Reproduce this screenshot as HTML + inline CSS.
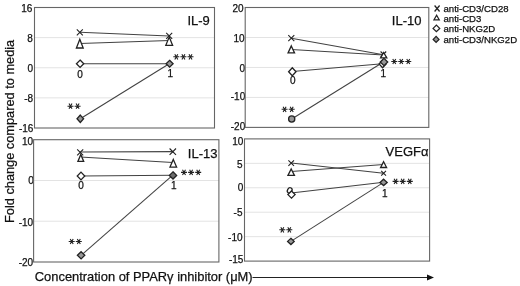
<!DOCTYPE html><html><head><meta charset="utf-8"><style>html,body{margin:0;padding:0;background:#fff;width:520px;height:286px;overflow:hidden;}body{position:relative;font-family:"Liberation Sans", sans-serif;}</style></head><body><svg width="520" height="286" viewBox="0 0 520 286" style="position:absolute;left:0;top:0;filter:blur(0.35px)" font-family='"Liberation Sans", sans-serif' fill="#111">
<style>text{stroke:#111;stroke-width:0.25px;}</style>
<rect width="520" height="286" fill="#fff"/>
<path d="M34.50 37.62L214.50 37.62" stroke="#e3e3e3" stroke-width="1.0" fill="none"/>
<path d="M34.50 67.75L214.50 67.75" stroke="#e3e3e3" stroke-width="1.0" fill="none"/>
<path d="M34.50 97.88L214.50 97.88" stroke="#e3e3e3" stroke-width="1.0" fill="none"/>
<text x="32.40" y="12.10" font-size="10" text-anchor="end" >16</text>
<text x="32.90" y="42.10" font-size="10" text-anchor="end" >8</text>
<text x="33.10" y="72.10" font-size="10" text-anchor="end" >0</text>
<text x="33.10" y="102.30" font-size="10" text-anchor="end" >-8</text>
<text x="33.40" y="131.90" font-size="10" text-anchor="end" >-16</text>
<rect x="34.50" y="7.50" width="180.00" height="120.50" fill="none" stroke="#666" stroke-width="1.1"/>
<text x="209.80" y="25.00" font-size="13" text-anchor="end" >IL-9</text>
<text x="80.10" y="77.60" font-size="10" text-anchor="middle" >0</text>
<text x="170.20" y="77.40" font-size="10" text-anchor="middle" >1</text>
<path d="M173.30 56.80L179.30 56.80M174.80 54.20L177.80 59.40M177.80 54.20L174.80 59.40" stroke="#222" stroke-width="1.1" fill="none"/>
<path d="M180.40 56.80L186.40 56.80M181.90 54.20L184.90 59.40M184.90 54.20L181.90 59.40" stroke="#222" stroke-width="1.1" fill="none"/>
<path d="M187.50 56.80L193.50 56.80M189.00 54.20L192.00 59.40M192.00 54.20L189.00 59.40" stroke="#222" stroke-width="1.1" fill="none"/>
<path d="M67.50 106.20L73.50 106.20M69.00 103.60L72.00 108.80M72.00 103.60L69.00 108.80" stroke="#222" stroke-width="1.1" fill="none"/>
<path d="M74.60 106.20L80.60 106.20M76.10 103.60L79.10 108.80M79.10 103.60L76.10 108.80" stroke="#222" stroke-width="1.1" fill="none"/>
<path d="M79.80 32.30L169.20 35.90" stroke="#424242" stroke-width="1.05" fill="none"/>
<path d="M79.80 43.40L169.20 40.60" stroke="#424242" stroke-width="1.05" fill="none"/>
<path d="M79.80 63.70L169.20 63.70" stroke="#424242" stroke-width="1.05" fill="none"/>
<path d="M80.30 118.80L169.20 63.70" stroke="#424242" stroke-width="1.05" fill="none"/>
<path d="M76.80 29.30L82.80 35.30M82.80 29.30L76.80 35.30" stroke="#222" stroke-width="1.1" fill="none"/>
<path d="M79.80 39.20L83.20 48.00L76.40 48.00Z" stroke="#222" stroke-width="1.3" fill="#fff"/>
<path d="M166.20 32.90L172.20 38.90M172.20 32.90L166.20 38.90" stroke="#222" stroke-width="1.1" fill="none"/>
<path d="M169.20 37.10L172.60 45.30L165.80 45.30Z" stroke="#222" stroke-width="1.3" fill="#fff"/>
<path d="M80.10 60.05L83.75 63.70L80.10 67.35L76.45 63.70Z" stroke="#222" stroke-width="1.3" fill="#fff"/>
<path d="M169.60 60.30L173.10 63.70L169.60 67.10L166.10 63.70Z" stroke="#222" stroke-width="1.3" fill="#979797"/>
<path d="M80.30 115.10L83.60 118.80L80.30 122.50L77.00 118.80Z" stroke="#222" stroke-width="1.3" fill="#979797"/>
<path d="M245.20 37.48L428.80 37.48" stroke="#e3e3e3" stroke-width="1.0" fill="none"/>
<path d="M245.20 67.45L428.80 67.45" stroke="#e3e3e3" stroke-width="1.0" fill="none"/>
<path d="M245.20 97.43L428.80 97.43" stroke="#e3e3e3" stroke-width="1.0" fill="none"/>
<text x="243.50" y="12.10" font-size="10" text-anchor="end" >20</text>
<text x="244.60" y="41.70" font-size="10" text-anchor="end" >10</text>
<text x="245.00" y="72.20" font-size="10" text-anchor="end" >0</text>
<text x="245.20" y="100.30" font-size="10" text-anchor="end" >-10</text>
<text x="245.20" y="129.90" font-size="10" text-anchor="end" >-20</text>
<rect x="245.20" y="7.50" width="183.60" height="119.90" fill="none" stroke="#666" stroke-width="1.1"/>
<text x="421.50" y="25.00" font-size="13" text-anchor="end" >IL-10</text>
<text x="292.70" y="83.50" font-size="10" text-anchor="middle" >0</text>
<text x="383.40" y="77.40" font-size="10" text-anchor="middle" >1</text>
<path d="M391.25 61.50L397.25 61.50M392.75 58.90L395.75 64.10M395.75 58.90L392.75 64.10" stroke="#222" stroke-width="1.1" fill="none"/>
<path d="M398.25 61.50L404.25 61.50M399.75 58.90L402.75 64.10M402.75 58.90L399.75 64.10" stroke="#222" stroke-width="1.1" fill="none"/>
<path d="M405.25 61.50L411.25 61.50M406.75 58.90L409.75 64.10M409.75 58.90L406.75 64.10" stroke="#222" stroke-width="1.1" fill="none"/>
<path d="M281.60 109.30L287.60 109.30M283.10 106.70L286.10 111.90M286.10 106.70L283.10 111.90" stroke="#222" stroke-width="1.1" fill="none"/>
<path d="M288.70 109.30L294.70 109.30M290.20 106.70L293.20 111.90M293.20 106.70L290.20 111.90" stroke="#222" stroke-width="1.1" fill="none"/>
<path d="M291.30 38.20L383.40 54.80" stroke="#424242" stroke-width="1.05" fill="none"/>
<path d="M291.30 49.50L383.40 55.00" stroke="#424242" stroke-width="1.05" fill="none"/>
<path d="M292.30 71.50L382.40 63.80" stroke="#424242" stroke-width="1.05" fill="none"/>
<path d="M291.70 119.00L383.40 62.00" stroke="#424242" stroke-width="1.05" fill="none"/>
<path d="M288.30 35.20L294.30 41.20M294.30 35.20L288.30 41.20" stroke="#222" stroke-width="1.1" fill="none"/>
<path d="M291.30 45.90L294.55 52.90L288.05 52.90Z" stroke="#222" stroke-width="1.3" fill="#fff"/>
<path d="M380.60 51.50L386.20 57.10M386.20 51.50L380.60 57.10" stroke="#222" stroke-width="1.1" fill="none"/>
<path d="M383.70 52.50L386.80 57.90L380.60 57.90Z" stroke="#222" stroke-width="1.3" fill="#fff"/>
<path d="M292.30 67.70L296.00 71.70L292.30 75.70L288.60 71.70Z" stroke="#222" stroke-width="1.3" fill="#fff"/>
<path d="M382.60 60.30L386.10 64.00L382.60 67.70L379.10 64.00Z" stroke="#222" stroke-width="1.3" fill="#fff"/>
<path d="M384.00 58.40L387.70 62.00L384.00 65.60L380.30 62.00Z" stroke="#222" stroke-width="1.3" fill="#979797"/>
<circle cx="291.70" cy="119.0" r="3.1" fill="#979797" stroke="#222" stroke-width="1.3"/>
<path d="M33.60 180.47L218.90 180.47" stroke="#e3e3e3" stroke-width="1.0" fill="none"/>
<path d="M33.60 221.23L218.90 221.23" stroke="#e3e3e3" stroke-width="1.0" fill="none"/>
<text x="33.00" y="145.10" font-size="10" text-anchor="end" >10</text>
<text x="33.80" y="184.10" font-size="10" text-anchor="end" >0</text>
<text x="33.10" y="226.30" font-size="10" text-anchor="end" >-10</text>
<text x="33.10" y="266.10" font-size="10" text-anchor="end" >-20</text>
<rect x="33.60" y="139.70" width="185.30" height="122.30" fill="none" stroke="#666" stroke-width="1.1"/>
<text x="217.50" y="158.00" font-size="13" text-anchor="end" >IL-13</text>
<text x="81.00" y="188.50" font-size="10" text-anchor="middle" >0</text>
<text x="173.80" y="188.50" font-size="10" text-anchor="middle" >1</text>
<path d="M181.00 172.40L187.00 172.40M182.50 169.80L185.50 175.00M185.50 169.80L182.50 175.00" stroke="#222" stroke-width="1.1" fill="none"/>
<path d="M188.10 172.40L194.10 172.40M189.60 169.80L192.60 175.00M192.60 169.80L189.60 175.00" stroke="#222" stroke-width="1.1" fill="none"/>
<path d="M195.20 172.40L201.20 172.40M196.70 169.80L199.70 175.00M199.70 169.80L196.70 175.00" stroke="#222" stroke-width="1.1" fill="none"/>
<path d="M68.70 241.50L74.70 241.50M70.20 238.90L73.20 244.10M73.20 238.90L70.20 244.10" stroke="#222" stroke-width="1.1" fill="none"/>
<path d="M75.80 241.50L81.80 241.50M77.30 238.90L80.30 244.10M80.30 238.90L77.30 244.10" stroke="#222" stroke-width="1.1" fill="none"/>
<path d="M80.20 152.00L172.80 151.60" stroke="#424242" stroke-width="1.05" fill="none"/>
<path d="M80.20 157.00L172.80 162.50" stroke="#424242" stroke-width="1.05" fill="none"/>
<path d="M81.00 176.00L172.80 175.20" stroke="#424242" stroke-width="1.05" fill="none"/>
<path d="M81.10 255.30L172.80 175.20" stroke="#424242" stroke-width="1.05" fill="none"/>
<path d="M77.20 149.30L83.20 155.30M83.20 149.30L77.20 155.30" stroke="#222" stroke-width="1.1" fill="none"/>
<path d="M80.80 154.40L83.70 161.40L77.90 161.40Z" stroke="#222" stroke-width="1.3" fill="#fff"/>
<path d="M169.60 148.50L176.00 154.90M176.00 148.50L169.60 154.90" stroke="#222" stroke-width="1.1" fill="none"/>
<path d="M173.30 159.50L176.60 167.10L170.00 167.10Z" stroke="#222" stroke-width="1.3" fill="#fff"/>
<path d="M81.00 172.10L84.75 176.00L81.00 179.90L77.25 176.00Z" stroke="#222" stroke-width="1.3" fill="#fff"/>
<path d="M173.00 171.80L176.65 175.40L173.00 179.00L169.35 175.40Z" stroke="#222" stroke-width="1.3" fill="#6e6e6e"/>
<path d="M81.10 251.70L84.80 255.30L81.10 258.90L77.40 255.30Z" stroke="#222" stroke-width="1.3" fill="#979797"/>
<path d="M244.50 163.34L429.60 163.34" stroke="#e3e3e3" stroke-width="1.0" fill="none"/>
<path d="M244.50 187.78L429.60 187.78" stroke="#e3e3e3" stroke-width="1.0" fill="none"/>
<path d="M244.50 212.22L429.60 212.22" stroke="#e3e3e3" stroke-width="1.0" fill="none"/>
<path d="M244.50 236.66L429.60 236.66" stroke="#e3e3e3" stroke-width="1.0" fill="none"/>
<text x="243.40" y="145.00" font-size="10" text-anchor="end" >10</text>
<text x="242.50" y="167.60" font-size="10" text-anchor="end" >5</text>
<text x="243.40" y="191.20" font-size="10" text-anchor="end" >0</text>
<text x="242.50" y="216.00" font-size="10" text-anchor="end" >-5</text>
<text x="242.50" y="240.60" font-size="10" text-anchor="end" >-10</text>
<text x="243.40" y="263.20" font-size="10" text-anchor="end" >-15</text>
<rect x="244.50" y="138.90" width="185.10" height="122.20" fill="none" stroke="#666" stroke-width="1.1"/>
<text x="428.50" y="156.00" font-size="13" text-anchor="end" >VEGFα</text>
<text x="384.80" y="196.60" font-size="10" text-anchor="middle" >1</text>
<path d="M392.60 181.40L398.60 181.40M394.10 178.80L397.10 184.00M397.10 178.80L394.10 184.00" stroke="#222" stroke-width="1.1" fill="none"/>
<path d="M399.70 181.40L405.70 181.40M401.20 178.80L404.20 184.00M404.20 178.80L401.20 184.00" stroke="#222" stroke-width="1.1" fill="none"/>
<path d="M406.80 181.40L412.80 181.40M408.30 178.80L411.30 184.00M411.30 178.80L408.30 184.00" stroke="#222" stroke-width="1.1" fill="none"/>
<path d="M279.30 229.80L285.30 229.80M280.80 227.20L283.80 232.40M283.80 227.20L280.80 232.40" stroke="#222" stroke-width="1.1" fill="none"/>
<path d="M286.30 229.80L292.30 229.80M287.80 227.20L290.80 232.40M290.80 227.20L287.80 232.40" stroke="#222" stroke-width="1.1" fill="none"/>
<path d="M291.20 163.10L383.60 173.20" stroke="#424242" stroke-width="1.05" fill="none"/>
<path d="M291.20 171.50L383.60 164.40" stroke="#424242" stroke-width="1.05" fill="none"/>
<path d="M291.20 193.00L383.60 182.30" stroke="#424242" stroke-width="1.05" fill="none"/>
<path d="M290.90 241.40L383.60 182.40" stroke="#424242" stroke-width="1.05" fill="none"/>
<path d="M288.40 160.30L294.00 165.90M294.00 160.30L288.40 165.90" stroke="#222" stroke-width="1.1" fill="none"/>
<path d="M291.20 168.95L294.45 175.45L287.95 175.45Z" stroke="#222" stroke-width="1.3" fill="#fff"/>
<path d="M381.20 170.80L386.00 175.60M386.00 170.80L381.20 175.60" stroke="#222" stroke-width="1.1" fill="none"/>
<path d="M383.60 161.70L386.60 167.50L380.60 167.50Z" stroke="#222" stroke-width="1.3" fill="#fff"/>
<ellipse cx="289.7" cy="190.4" rx="2.2" ry="2.8" transform="rotate(30 289.7 190.4)" fill="#fff" stroke="#222" stroke-width="1.3"/>
<path d="M291.50 191.00L295.10 194.60L291.50 198.20L287.90 194.60Z" stroke="#222" stroke-width="1.3" fill="#fff"/>
<path d="M383.60 179.20L387.20 182.40L383.60 185.60L380.00 182.40Z" stroke="#222" stroke-width="1.3" fill="#979797"/>
<path d="M290.90 238.30L294.20 241.40L290.90 244.50L287.60 241.40Z" stroke="#222" stroke-width="1.3" fill="#979797"/>
<path d="M434.60 5.50L439.60 11.50M439.60 5.50L434.60 11.50" stroke="#222" stroke-width="1.25" fill="none"/>
<path d="M436.60 15.20L439.20 19.80L434.00 19.80Z" stroke="#222" stroke-width="1.3" fill="#fff"/>
<path d="M436.40 25.10L439.70 28.40L436.40 31.70L433.10 28.40Z" stroke="#222" stroke-width="1.3" fill="#fff"/>
<path d="M436.10 36.40L439.00 39.40L436.10 42.40L433.20 39.40Z" stroke="#222" stroke-width="1.3" fill="#979797"/>
<text x="443.50" y="12.20" font-size="9.6" text-anchor="start" >anti-CD3/CD28</text>
<text x="443.50" y="21.50" font-size="9.6" text-anchor="start" >anti-CD3</text>
<text x="443.50" y="31.60" font-size="9.6" text-anchor="start" >anti-NKG2D</text>
<text x="443.50" y="42.60" font-size="9.6" text-anchor="start" >anti-CD3/NKG2D</text>
<text x="0" y="0" font-size="12.8" transform="translate(13.6 223.0) rotate(-90)" textLength="183.2" lengthAdjust="spacingAndGlyphs">Fold change compared to media</text>
<text x="34.80" y="281.00" font-size="12.9" text-anchor="start" >Concentration of PPARγ inhibitor (μM)</text>
<path d="M252.50 277.50L428.00 277.50" stroke="#222" stroke-width="1.0" fill="none"/>
<path d="M427 274.6L434 277.5L427 280.4Z" fill="#111"/>
</svg></body></html>
